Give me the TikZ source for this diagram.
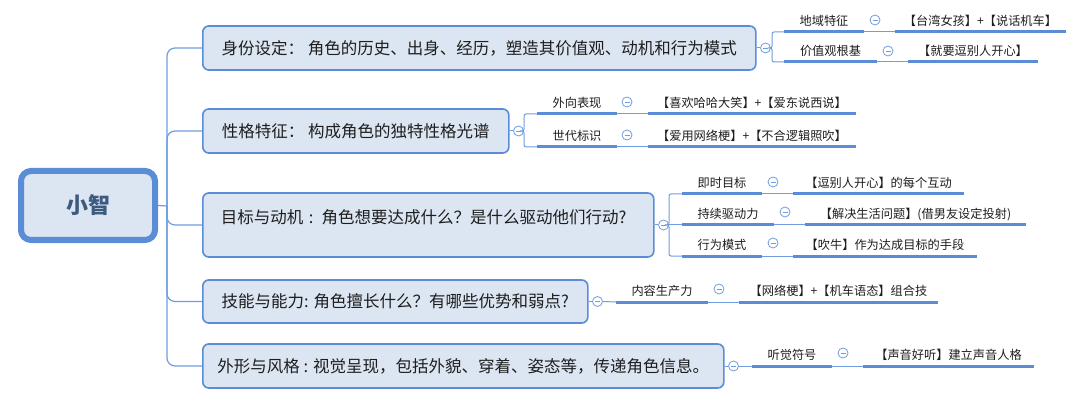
\documentclass[tikz,border=0pt]{standalone}
\usepackage{fontspec}
\setmainfont{Noto Sans CJK SC}
\usetikzlibrary{positioning}

\definecolor{mapblue}{HTML}{5A8DD6}
\definecolor{maplight}{HTML}{6E9DE0}
\definecolor{mapfill}{HTML}{DCE5F2}
\definecolor{maproot}{HTML}{3D5A80}
\definecolor{maptext}{HTML}{1E1E1E}

\tikzset{
  rootbox/.style={draw=mapblue, line width=6pt, fill=mapfill, rounded corners=10pt,
    minimum width=134pt, minimum height=69pt, text=maproot,
    font=\fontsize{22}{26}\selectfont\bfseries},
  topicbox/.style={draw=mapblue, line width=1.6pt, fill=mapfill, rounded corners=6pt,
    anchor=west, minimum height=44pt, text=maptext, font=\fontsize{16.5}{19}\selectfont},
  fold/.style={circle, draw=maplight, fill=white, line width=.8pt, minimum size=10pt,
    inner sep=0pt, path picture={\draw[maplight, line width=.7pt]
      ([xshift=-2.5pt]path picture bounding box.center) --
      ([xshift=2.5pt]path picture bounding box.center);}},
  leaf/.style={anchor=south west, inner xsep=0pt, inner ysep=4pt, outer sep=0pt,
    text height=9.5pt, text depth=2.5pt, text=maptext, font=\fontsize{12.2}{14}\selectfont},
  trunk/.style={draw=maplight, line width=1.2pt, rounded corners=8pt},
  conn/.style={draw=maplight, line width=1pt, rounded corners=2pt},
  uline/.style={draw=mapblue, line width=3pt},
}

\begin{document}
\begin{tikzpicture}[x=1pt, y=-1pt]

\newcommand\TX{202}
\newcommand\HUBX{167}
\newcommand\GAP{31pt}

\useasboundingbox[fill=white] (0,0) rectangle (1080,409);

%% root and topics
\node[rootbox] (root) at (88,205.5) {小智};
\coordinate (hub) at (\HUBX,206);

\node[topicbox, minimum width=553pt] (t1) at (\TX,48) {身份设定： 角色的历史、出身、经历，塑造其价值观、动机和行为模式};
\node[topicbox, minimum width=306pt] (t2) at (\TX,131) {性格特征： 构成角色的独特性格光谱};
\node[topicbox, minimum height=64pt, text width=415pt, align=left, inner xsep=18pt,
  inner ysep=18pt, text height=12pt, text depth=16pt] (t3) at (\TX,225) {目标与动机 : 角色想要达成什么？是什么驱动他们行动?};
\node[topicbox, minimum width=385pt, minimum height=43pt] (t4) at (\TX,301.5) {技能与能力: 角色擅长什么？有哪些优势和弱点?};
\node[topicbox, minimum width=521pt] (t5) at (\TX,366) {外形与风格 : 视觉呈现，包括外貌、穿着、姿态等，传递角色信息。};

\draw[maplight, line width=1.2pt] (root.east) -- (hub);
\draw[trunk] (hub) |- (t1.west);
\draw[trunk] (hub) |- (t2.west);
\draw[trunk] (hub) |- (t3.west);
\draw[trunk] (hub) |- (t4.west);
\draw[trunk] (hub) |- (t5.west);

\node[fold, right=3.5pt of t1] (f1) {};
\node[fold, right=3.5pt of t2] (f2) {};
\node[fold, right=3.5pt of t3] (f3) {};
\node[fold, right=3.5pt of t4] (f4) {};
\node[fold, right=3.5pt of t5] (f5) {};

\draw[conn] (t1.east) -- (f1.west);
\draw[conn] (t2.east) -- (f2.west);
\draw[conn] (t3.east) -- (f3.west);
\draw[conn] (t4.east) -- (f4.west);
\draw[conn] (t5.east) -- (f5.west);

%% topic 1
\node[leaf, minimum width=80pt] (a1) at (784,32) {地域特征};
\node[fold] (a1f) at ([xshift=11pt, yshift=12pt]a1.south east) {};
\node[leaf, minimum width=171pt] (a1v) at ([xshift=\GAP]a1.south east) {【台湾女孩】+【说话机车】};
\node[leaf, minimum width=93pt] (a2) at (784,62) {价值观根基};
\node[fold] (a2f) at ([xshift=11pt, yshift=11pt]a2.south east) {};
\node[leaf, minimum width=130pt] (a2v) at ([xshift=\GAP]a2.south east) {【就要逗别人开心】};

\draw[conn] (f1.east) -| ([xshift=-12pt]a1.south west) -- (a1.south west);
\draw[conn] (f1.east) -| ([xshift=-12pt]a2.south west) -- (a2.south west);
\draw[conn] (a1.south east) -- (a1v.south west);
\draw[conn] (a2.south east) -- (a2v.south west);
\draw[uline] (a1.south west) -- (a1.south east) (a1v.south west) -- (a1v.south east);
\draw[uline] (a2.south west) -- (a2.south east) (a2v.south west) -- (a2v.south east);

%% topic 2
\node[leaf, minimum width=80pt] (b1) at (537,114) {外向表现};
\node[fold] (b1f) at ([xshift=10pt, yshift=12pt]b1.south east) {};
\node[leaf, minimum width=208pt] (b1v) at ([xshift=\GAP]b1.south east) {【喜欢哈哈大笑】+【爱东说西说】};
\node[leaf, minimum width=80pt] (b2) at (537,147) {世代标识};
\node[fold] (b2f) at ([xshift=10pt, yshift=12pt]b2.south east) {};
\node[leaf, minimum width=208pt] (b2v) at ([xshift=\GAP]b2.south east) {【爱用网络梗】+【不合逻辑照吹】};

\draw[conn] (f2.east) -| ([xshift=-13pt]b1.south west) -- (b1.south west);
\draw[conn] (f2.east) -| ([xshift=-13pt]b2.south west) -- (b2.south west);
\draw[conn] (b1.south east) -- (b1v.south west);
\draw[conn] (b2.south east) -- (b2v.south west);
\draw[uline] (b1.south west) -- (b1.south east) (b1v.south west) -- (b1v.south east);
\draw[uline] (b2.south west) -- (b2.south east) (b2v.south west) -- (b2v.south east);

%% topic 3
\node[leaf, minimum width=80pt] (c1) at (682,194) {即时目标};
\node[fold] (c1f) at ([xshift=11pt, yshift=12pt]c1.south east) {};
\node[leaf, minimum width=171pt] (c1v) at ([xshift=\GAP]c1.south east) {【逗别人开心】的每个互动};
\node[leaf, minimum width=92pt] (c2) at (682,225) {持续驱动力};
\node[fold] (c2f) at ([xshift=11pt, yshift=13pt]c2.south east) {};
\node[leaf, minimum width=221pt] (c2v) at ([xshift=\GAP]c2.south east) {【解决生活问题】(借男友设定投射)};
\node[leaf, minimum width=80pt] (c3) at (682,256) {行为模式};
\node[fold] (c3f) at ([xshift=11pt, yshift=13pt]c3.south east) {};
\node[leaf, minimum width=184pt] (c3v) at ([xshift=\GAP]c3.south east) {【吹牛】作为达成目标的手段};

\draw[conn] (f3.east) -| ([xshift=-13pt]c1.south west) -- (c1.south west);
\draw[conn] (f3.east) -- (c2.south west);
\draw[conn] (f3.east) -| ([xshift=-13pt]c3.south west) -- (c3.south west);
\draw[conn] (c1.south east) -- (c1v.south west);
\draw[conn] (c2.south east) -- (c2v.south west);
\draw[conn] (c3.south east) -- (c3v.south west);
\draw[uline] (c1.south west) -- (c1.south east) (c1v.south west) -- (c1v.south east);
\draw[uline] (c2.south west) -- (c2.south east) (c2v.south west) -- (c2v.south east);
\draw[uline] (c3.south west) -- (c3.south east) (c3v.south west) -- (c3v.south east);

%% topic 4
\node[leaf, minimum width=92pt] (d1) at (616,302) {内容生产力};
\node[fold] (d1f) at ([xshift=11pt, yshift=13pt]d1.south east) {};
\node[leaf, minimum width=199pt] (d1v) at ([xshift=\GAP]d1.south east) {【网络梗】+【机车语态】组合技};

\draw[conn] (f4.east) -- (d1.south west);
\draw[conn] (d1.south east) -- (d1v.south west);
\draw[uline] (d1.south west) -- (d1.south east) (d1v.south west) -- (d1v.south east);

%% topic 5
\node[leaf, minimum width=80pt] (e1) at (752,366) {听觉符号};
\node[fold] (e1f) at ([xshift=11pt, yshift=13pt]e1.south east) {};
\node[leaf, minimum width=171pt] (e1v) at ([xshift=\GAP]e1.south east) {【声音好听】建立声音人格};

\draw[conn] (f5.east) -- (e1.south west);
\draw[conn] (e1.south east) -- (e1v.south west);
\draw[uline] (e1.south west) -- (e1.south east) (e1v.south west) -- (e1v.south east);

\end{tikzpicture}
\end{document}
